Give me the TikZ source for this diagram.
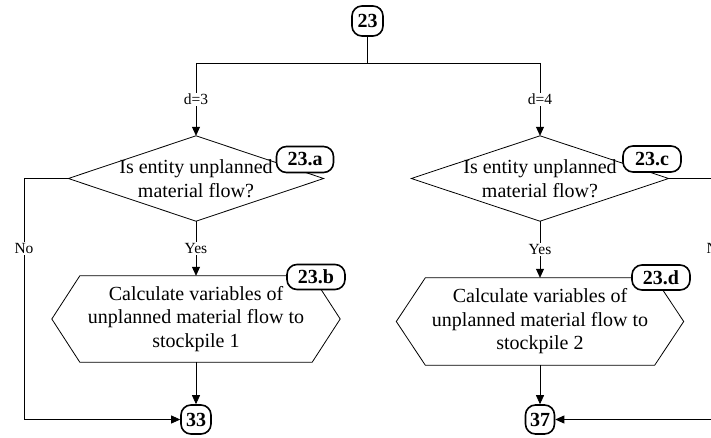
\documentclass[tikz,border=0pt]{standalone}
\usepackage{fontspec}
\setmainfont{Liberation Serif}
\usetikzlibrary{arrows.meta,calc}
\tikzset{
  tag/.style={draw, line width=1.6pt, rounded corners=10pt, fill=white, inner sep=0pt,
    font=\fontsize{20}{22}\selectfont\bfseries},
  shapebox/.style={inner sep=0pt, align=center, font=\fontsize{20}{23.5}\selectfont},
  lbl/.style={fill=white, inner sep=1pt, font=\fontsize{15.5}{17}\selectfont},
  conn/.style={line width=0.8pt},
  arr/.style={conn, -{Triangle[length=9pt,width=8pt]}},
  outline/.style={line width=0.8pt}
}
\begin{document}
\begin{tikzpicture}[x=1pt,y=-1pt]
\useasboundingbox (0,0) rectangle (711,438);
\clip (0,0) rectangle (711,438);
% top connector node
\node[tag, minimum width=31pt, minimum height=30pt] (n23) at (367.5,21) {23};
\coordinate (cL) at (196,63);
\coordinate (cR) at (540,63);
% decisions
\node[shapebox, minimum width=255pt, minimum height=85pt] (dA) at (196,178.5) {Is entity unplanned\\material flow?};
\draw[outline] (dA.north) -- (dA.east) -- (dA.south) -- (dA.west) -- cycle;
\node[shapebox, minimum width=257pt, minimum height=85pt] (dC) at (540,178.5) {Is entity unplanned\\material flow?};
\draw[outline] (dC.north) -- (dC.east) -- (dC.south) -- (dC.west) -- cycle;
% processes
\node[shapebox, minimum width=288pt, minimum height=86pt] (hB) at (196,319) {Calculate variables of\\unplanned material flow to\\stockpile 1};
\draw[outline] (hB.west) -- ([xshift=28pt]hB.north west) -- ([xshift=-28pt]hB.north east) -- (hB.east) -- ([xshift=-28pt]hB.south east) -- ([xshift=28pt]hB.south west) -- cycle;
\node[shapebox, minimum width=287pt, minimum height=87pt] (hD) at (540,321.5) {Calculate variables of\\unplanned material flow to\\stockpile 2};
\draw[outline] (hD.west) -- ([xshift=29pt]hD.north west) -- ([xshift=-29pt]hD.north east) -- (hD.east) -- ([xshift=-29pt]hD.south east) -- ([xshift=29pt]hD.south west) -- cycle;
% tags
\node[tag, minimum width=57pt, minimum height=26pt] (tA) at (305,159.5) {23.a};
\node[tag, minimum width=58pt, minimum height=26pt] (tC) at (652,159) {23.c};
\node[tag, minimum width=58pt, minimum height=25pt] (tB) at (316,277) {23.b};
\node[tag, minimum width=58pt, minimum height=25pt] (tD) at (661,277.5) {23.d};
% end connectors
\node[tag, minimum width=30pt, minimum height=29pt] (n33) at (196,419.5) {33};
\node[tag, minimum width=29pt, minimum height=29pt] (n37) at (540,419.5) {37};
% connectors
\draw[conn] (n23.south) -- (n23.south |- cL);
\draw[conn] (cL) -- (cR);
\draw[arr] (cL) -- node[lbl]{d=3} (dA.north);
\draw[arr] (cR) -- node[lbl]{d=4} (dC.north);
\draw[arr] (dA.south) -- node[lbl]{Yes} (hB.north);
\draw[arr] (dC.south) -- node[lbl]{Yes} (hD.north);
\draw[arr] (hB.south) -- (n33.north);
\draw[arr] (hD.south) -- (n37.north);
\coordinate (noA) at (24,178.5);
\coordinate (noC) at (716,178.5);
\draw[arr] (dA.west) -- (noA) -- node[lbl,pos=0.29]{No} (noA |- n33) -- (n33.west);
\draw[arr] (dC.east) -- (noC) -- node[lbl,pos=0.29]{No} (noC |- n37) -- (n37.east);
\end{tikzpicture}
\end{document}
